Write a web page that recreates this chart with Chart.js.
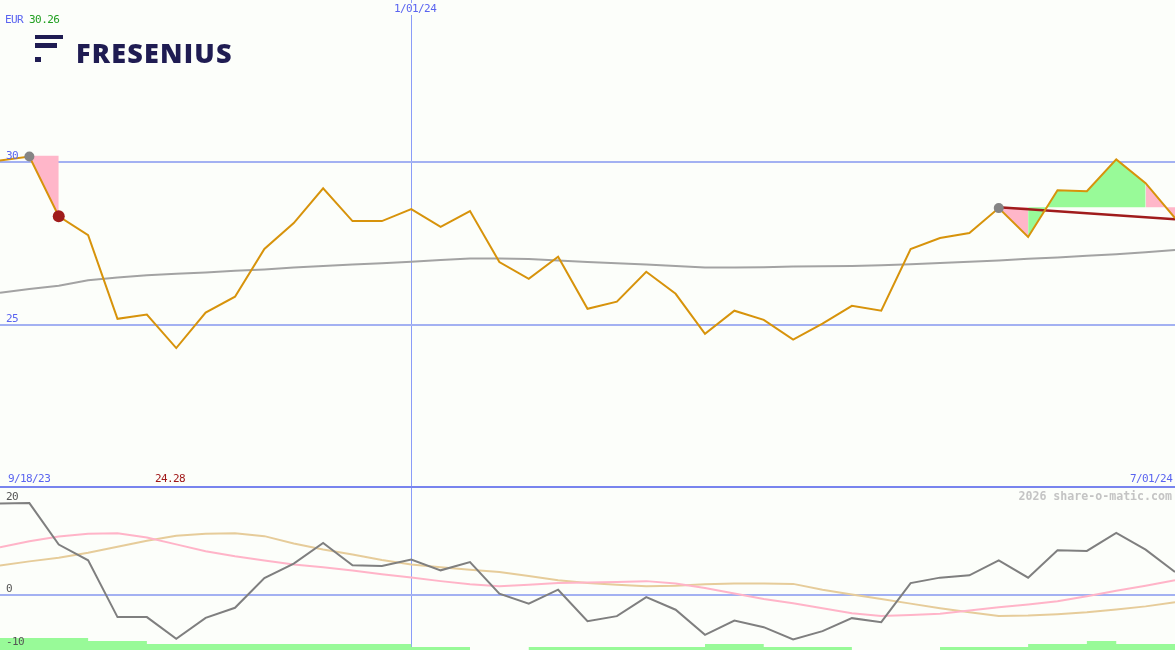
<!DOCTYPE html>
<html>
<head>
<meta charset="utf-8">
<title>Fresenius</title>
<script src="https://cdn.jsdelivr.net/npm/chart.js@4.4.1/dist/chart.umd.min.js"></script>
<style>
  body { margin: 0; background: #fcfefa; }
  #wrap { position: relative; width: 1175px; height: 650px; overflow: hidden; background: #fcfefa; font-family: "DejaVu Sans Mono", monospace; }
  #top { position: absolute; left: 0; top: 0; width: 1175px; height: 487px; }
  #bottom { position: absolute; left: 0; top: 487px; width: 1175px; height: 163px; }
  #sep { position: absolute; left: 0; top: 486px; width: 1175px; height: 2px; background: #7884ee; }
  .lbl { position: absolute; font-size: 11px; letter-spacing: -0.6px; line-height: 12px; white-space: pre; }
  .bar { position: absolute; background: #1f1c52; }
  #logo { position: absolute; left: 76px; top: 36px; font-family: "Open Sans", sans-serif; font-weight: 800; font-size: 27px; letter-spacing: 1.2px; color: #1f1c52; line-height: 34px; }
  #copy { position: absolute; right: 3px; top: 490px; font-size: 11.6px; font-weight: bold; color: #c4c4c4; line-height: 12px; }
</style>
</head>
<body>
<div id="wrap">
  <div id="top"><canvas id="priceChart"></canvas></div>
  <div id="bottom"><canvas id="indChart"></canvas></div>
  <div id="sep"></div>

  <div class="bar" style="left:35px;top:35px;width:28px;height:4px"></div>
  <div class="bar" style="left:35px;top:43px;width:22px;height:5px"></div>
  <div class="bar" style="left:35px;top:57px;width:6px;height:5px"></div>
  <div id="logo">FRESENIUS</div>

  <div class="lbl" style="left:5px;top:14px;color:#5a64f0">EUR <span style="color:#22a022">30.26</span></div>
  <div class="lbl" style="left:394px;top:3px;color:#5a64f0;background:#fcfefa">1/01/24</div>
  <div class="lbl" style="left:8px;top:473px;color:#5a64f0">9/18/23</div>
  <div class="lbl" style="left:155px;top:473px;color:#a01818">24.28</div>
  <div class="lbl" style="left:1130px;top:473px;color:#5a64f0">7/01/24</div>
  <div id="copy">2026 share-o-matic.com</div>
</div>

<script>
// weekly closes, 9/25/23 .. 7/01/24
const dates = ['9/25/23', '10/02/23', '10/09/23', '10/16/23', '10/23/23', '10/30/23', '11/06/23', '11/13/23',
    '11/20/23', '11/27/23', '12/04/23', '12/11/23', '12/18/23', '12/25/23', '1/01/24', '1/08/24', '1/15/24',
    '1/22/24', '1/29/24', '2/05/24', '2/12/24', '2/19/24', '2/26/24', '3/04/24', '3/11/24', '3/18/24', '3/25/24',
    '4/01/24', '4/08/24', '4/15/24', '4/22/24', '4/29/24', '5/06/24', '5/13/24', '5/20/24', '5/27/24', '6/03/24',
    '6/10/24', '6/17/24', '6/24/24', '7/01/24'];

const price = [30.06, 30.18, 28.34, 27.76, 25.18, 25.31, 24.28, 25.37, 25.86, 27.33, 28.13, 29.20, 28.19, 28.19,
    28.56, 28.01, 28.50, 26.93, 26.41, 27.09, 25.49, 25.71, 26.63, 25.95, 24.72, 25.43, 25.15, 24.54, 25.03,
    25.58, 25.43, 27.33, 27.67, 27.82, 28.59, 27.70, 29.14, 29.11, 30.09, 29.36, 28.28];

const avgLine = [25.98, 26.10, 26.20, 26.37, 26.45, 26.52, 26.57, 26.61, 26.66, 26.70, 26.76, 26.81, 26.85, 26.89,
    26.94, 26.99, 27.04, 27.04, 27.02, 26.98, 26.93, 26.89, 26.85, 26.81, 26.76, 26.76, 26.77, 26.79, 26.80,
    26.81, 26.83, 26.86, 26.90, 26.94, 26.98, 27.03, 27.07, 27.12, 27.17, 27.23, 27.30];

const trendEnds = [28.62, 28.25];     // 5/20/24 -> 7/01/24
const refLevels = [30.2, 28.62];      // left pink box, right band
const markIdx = [1, 2, 34];
const markColors = ['#858585', '#a01c1c', '#858585'];

// lower panel
const momentum = [19.9, 20.0, 10.96, 7.53, -4.84, -4.84, -9.57, -4.99, -2.8, 3.67, 6.8, 11.3, 6.44, 6.29, 7.68,
    5.35, 7.16, 0.26, -1.92, 1.13, -5.72, -4.63, -0.48, -3.23, -8.69, -5.57, -7.03, -9.72, -7.9, -5.06, -5.94,
    2.58, 3.76, 4.26, 7.53, 3.76, 9.72, 9.57, 13.5, 9.87, 4.98];
const pinkLine = [10.4, 11.7, 12.7, 13.3, 13.4, 12.5, 11.0, 9.5, 8.4, 7.5, 6.6, 6.0, 5.3, 4.5, 3.8, 3.0, 2.3, 1.9,
    2.2, 2.6, 2.7, 2.8, 3.0, 2.5, 1.5, 0.3, -0.9, -1.8, -2.9, -4.0, -4.6, -4.4, -4.1, -3.4, -2.7, -2.1, -1.4,
    -0.3, 0.9, 2.0, 3.2];
const tanLine = [6.4, 7.3, 8.1, 9.2, 10.5, 11.8, 12.9, 13.3, 13.4, 12.8, 11.2, 9.9, 8.8, 7.6, 6.6, 6.0, 5.5, 5.0,
    4.1, 3.2, 2.6, 2.2, 1.9, 2.0, 2.3, 2.5, 2.5, 2.4, 1.1, 0.1, -0.9, -1.9, -2.9, -3.8, -4.6, -4.5, -4.2, -3.8,
    -3.2, -2.5, -1.6];
const volBars = [4, 4, 4, 3, 3, 2, 2, 2, 2, 2, 2, 2, 2, 2, 1, 1, 0, 0, 1, 1, 1, 1, 1, 1, 2, 2, 1, 1, 1, 0, 0, 0,
    1, 1, 1, 2, 2, 3, 2, 2, 2];

// axis ranges and labelled ticks
const priceRange = [20, 35];
const priceTicks = [25, 30];
const indRange = [-12, 23.5];
const indTicks = [-10, 0, 20];

const PINK = '#ffb6c9';
const GREEN = '#98fa98';
const GRID = '#a3b1f2';
const TEXTBLUE = '#5a64f0';

function pts(from, to, vals) {
    const out = [];
    for (let i = from; i <= to; i++) out.push({ x: dates[i], y: vals[i] });
    return out;
}
function flat(from, to, v) {
    const out = [];
    for (let i = from; i <= to; i++) out.push({ x: dates[i], y: v });
    return out;
}

function xAxis() {
    return {
        type: 'category',
        offset: false,
        ticks: { display: false, autoSkip: false },
        grid: {
            drawTicks: false,
            lineWidth: 1,
            color: c => dates[c.index] === '1/01/24' ? '#8a9cf8' : 'rgba(0,0,0,0)'
        },
        border: { display: false }
    };
}

function yAxis(range, labelled, zeroOnly) {
    return {
        min: range[0],
        max: range[1],
        afterBuildTicks: s => { s.ticks = labelled.map(v => ({ value: v })); },
        ticks: { display: false },
        grid: {
            drawTicks: false,
            lineWidth: 2,
            color: c => (!zeroOnly || (c.tick && c.tick.value === 0)) ? GRID : 'rgba(0,0,0,0)'
        },
        border: { display: false }
    };
}

// tick labels as text sitting just above their grid line
function placeTickLabels(chart, labelled, panelTop, color) {
    const wrap = document.getElementById('wrap');
    const scale = chart.scales.y;
    labelled.forEach(v => {
        const d = document.createElement('div');
        d.className = 'lbl';
        d.textContent = String(v);
        let top = scale.getPixelForValue(v) - 12;
        if (top > chart.height - 26) top = chart.height - 14;
        d.style.left = '6px';
        d.style.top = (panelTop + top) + 'px';
        d.style.color = color;
        wrap.appendChild(d);
    });
}

const baseOptions = {
    responsive: true,
    maintainAspectRatio: false,
    animation: false,
    layout: { padding: 0, autoPadding: false },
    plugins: { legend: { display: false }, tooltip: { enabled: false } }
};

const priceChart = new Chart(document.getElementById('priceChart'), {
    type: 'line',
    data: {
        labels: dates,
        datasets: [
            {   // markers
                data: markIdx.map(i => ({ x: dates[i], y: price[i] })),
                showLine: false,
                pointRadius: [5, 6, 5],
                pointBackgroundColor: markColors,
                pointBorderWidth: 0
            },
            {
                data: price,
                borderColor: '#d7930b',
                borderWidth: 2,
                pointRadius: 0,
                tension: 0
            },
            {
                data: [{ x: dates[34], y: trendEnds[0] }, { x: dates[40], y: trendEnds[1] }],
                borderColor: '#a01c1c',
                borderWidth: 2.5,
                pointRadius: 0
            },
            {   // 3: left pink box
                data: pts(1, 2, price),
                borderWidth: 0, pointRadius: 0,
                fill: { target: 7, above: PINK, below: PINK }
            },
            {   // 4
                data: pts(34, 35, price),
                borderWidth: 0, pointRadius: 0,
                fill: { target: 8, above: PINK, below: PINK }
            },
            {   // 5
                data: pts(35, 39, price),
                borderWidth: 0, pointRadius: 0,
                fill: { target: 8, above: GREEN, below: GREEN }
            },
            {   // 6
                data: pts(39, 40, price),
                borderWidth: 0, pointRadius: 0,
                fill: { target: 8, above: PINK, below: PINK }
            },
            {   // 7: left level
                data: flat(1, 2, refLevels[0]),
                borderWidth: 0, borderColor: 'rgba(0,0,0,0)', pointRadius: 0
            },
            {   // 8: right level
                data: flat(34, 40, refLevels[1]),
                borderWidth: 0, borderColor: 'rgba(0,0,0,0)', pointRadius: 0
            },
            {
                data: avgLine,
                borderColor: '#a3a3a3',
                borderWidth: 2,
                pointRadius: 0
            }
        ]
    },
    options: {
        ...baseOptions,
        scales: {
            x: xAxis(),
            y: yAxis(priceRange, priceTicks, false)
        }
    }
});

const indChart = new Chart(document.getElementById('indChart'), {
    type: 'line',
    data: {
        labels: dates,
        datasets: [
            { data: momentum, borderColor: '#7f7f7f', borderWidth: 2, pointRadius: 0 },
            { data: pinkLine, borderColor: '#ffb4c8', borderWidth: 2, pointRadius: 0 },
            { data: tanLine, borderColor: '#e6cc9a', borderWidth: 2, pointRadius: 0 },
            {
                data: volBars,
                yAxisID: 'yb',
                stepped: true,
                borderWidth: 0,
                pointRadius: 0,
                backgroundColor: GREEN,
                fill: 'start'
            }
        ]
    },
    options: {
        ...baseOptions,
        scales: {
            x: xAxis(),
            y: yAxis(indRange, indTicks, true),
            yb: { display: false, min: 0, max: 54.3 }
        }
    }
});

placeTickLabels(priceChart, priceTicks, 0, TEXTBLUE);
placeTickLabels(indChart, indTicks, 487, '#555555');
</script>
</body>
</html>
